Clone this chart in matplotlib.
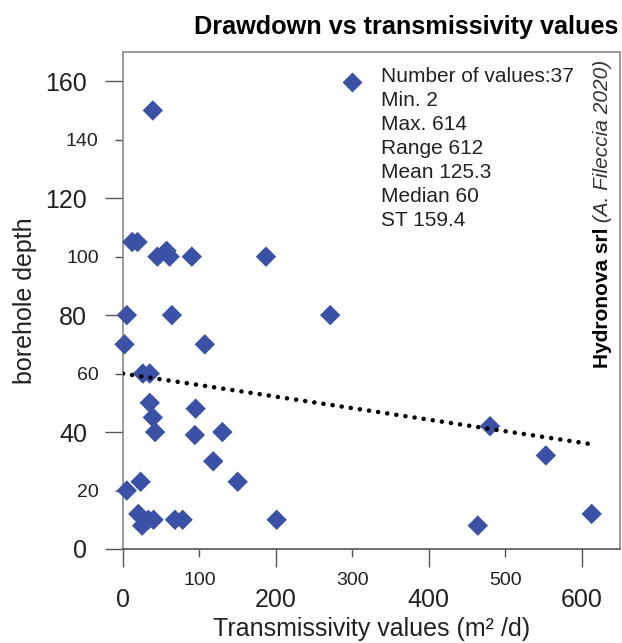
import matplotlib
matplotlib.use("Agg")
import matplotlib.pyplot as plt
from matplotlib import font_manager

# ---------- data ----------
transmissivity = [39, 12, 19, 45, 57, 61, 90, 187, 5, 64, 271, 2, 107,
                  26, 35, 35, 39, 42, 95, 94, 130, 118, 150, 23, 5,
                  20, 25, 33, 40, 68, 78, 201, 480, 553, 464, 613]
depth = [150, 105, 105, 100, 102, 100, 100, 100, 80, 80, 80, 70, 70,
         60, 60, 50, 45, 40, 48, 39, 40, 30, 23, 23, 20,
         12, 8, 10, 10, 10, 10, 10, 42, 32, 8, 12]

trend_x = [0, 614]
trend_y = [60, 35.8]

y_major = [0, 40, 80, 120, 160]
y_minor = [20, 60, 100, 140]
x_major = [0, 200, 400, 600]
x_minor = [100, 300, 500]

stats_lines = ["Number of values:37", "Min. 2", "Max. 614", "Range 612",
               "Mean 125.3", "Median 60", "ST 159.4"]

title = "Drawdown vs transmissivity values"
credit_bold = "Hydronova srl"
credit_italic = " (A. Fileccia 2020)"

# ---------- fonts ----------
names = {f.name for f in font_manager.fontManager.ttflist}
base_font = "Liberation Sans" if "Liberation Sans" in names else "DejaVu Sans"
plt.rcParams["font.family"] = [base_font, "DejaVu Sans"]

blue = "#3a51a5"
spine_gray = "#8a8a8a"
text_col = "#222222"

fig = plt.figure(figsize=(6.22, 6.43), dpi=100)
ax = fig.add_axes([123 / 622, 1 - 549 / 643, 497 / 622, 497 / 643])

ax.scatter(transmissivity, depth, marker="D", s=108, color=blue,
           edgecolors="none", zorder=3, clip_on=False)
ax.plot(trend_x, trend_y, color="black", lw=3.3, linestyle=(0, (0.01, 2.0)),
        dash_capstyle="round", zorder=4)

ax.set_xlim(0, 650)
ax.set_ylim(0, 170)

ax.set_xticks(x_major)
ax.set_xticks(x_minor, minor=True)
ax.set_yticks(y_major)
ax.set_yticks(y_minor, minor=True)
ax.set_xticklabels([str(v) for v in x_major])
ax.set_xticklabels([str(v) for v in x_minor], minor=True)
ax.set_yticklabels([str(v) for v in y_major])
ax.set_yticklabels([str(v) for v in y_minor], minor=True)

ax.tick_params(axis="both", which="major", length=13, width=1.0,
               color="#555555", labelsize=18, labelcolor=text_col)
ax.tick_params(axis="both", which="minor", length=5.5, width=1.0,
               color="#555555", labelsize=14, labelcolor=text_col)
ax.tick_params(axis="y", which="major", pad=13)
ax.tick_params(axis="y", which="minor", pad=12)
ax.tick_params(axis="x", which="major", pad=15)
ax.tick_params(axis="x", which="minor", pad=11)

for side in ["left", "top", "right"]:
    ax.spines[side].set_color(spine_gray)
    ax.spines[side].set_linewidth(1.2)
ax.spines["bottom"].set_color("#555555")
ax.spines["bottom"].set_linewidth(1.2)

ax.set_xlabel("Transmissivity values (m² /d)", fontsize=18, color=text_col,
              labelpad=4)
ax.set_ylabel("borehole depth", fontsize=18, color=text_col, labelpad=6)

# stats box (legend-like)
ax.plot([(352 - 123) / 497], [(549 - 82) / 497], marker="D", ms=10.4,
        color=blue, mec="none", transform=ax.transAxes, clip_on=False)
for i, line in enumerate(stats_lines):
    ax.text((381 - 123) / 497, (549 - 82 - 24 * i) / 497, line,
            transform=ax.transAxes, fontsize=15, color=text_col,
            ha="left", va="baseline")

# title
fig.text(618 / 622, 1 - 27 / 643, title, fontsize=18.2, fontweight="bold",
         ha="right", va="center")

# vertical credit
t1 = fig.text(603 / 622, 1 - 368 / 643, credit_bold, rotation=90,
              fontsize=15, fontweight="bold", ha="center", va="bottom")
ax.annotate(credit_italic, xy=(0.5, 1.0), xycoords=t1, rotation=90,
            fontsize=15, fontstyle="italic", color="#333333",
            ha="center", va="bottom", annotation_clip=False)

fig.savefig("out.png", dpi=100)
